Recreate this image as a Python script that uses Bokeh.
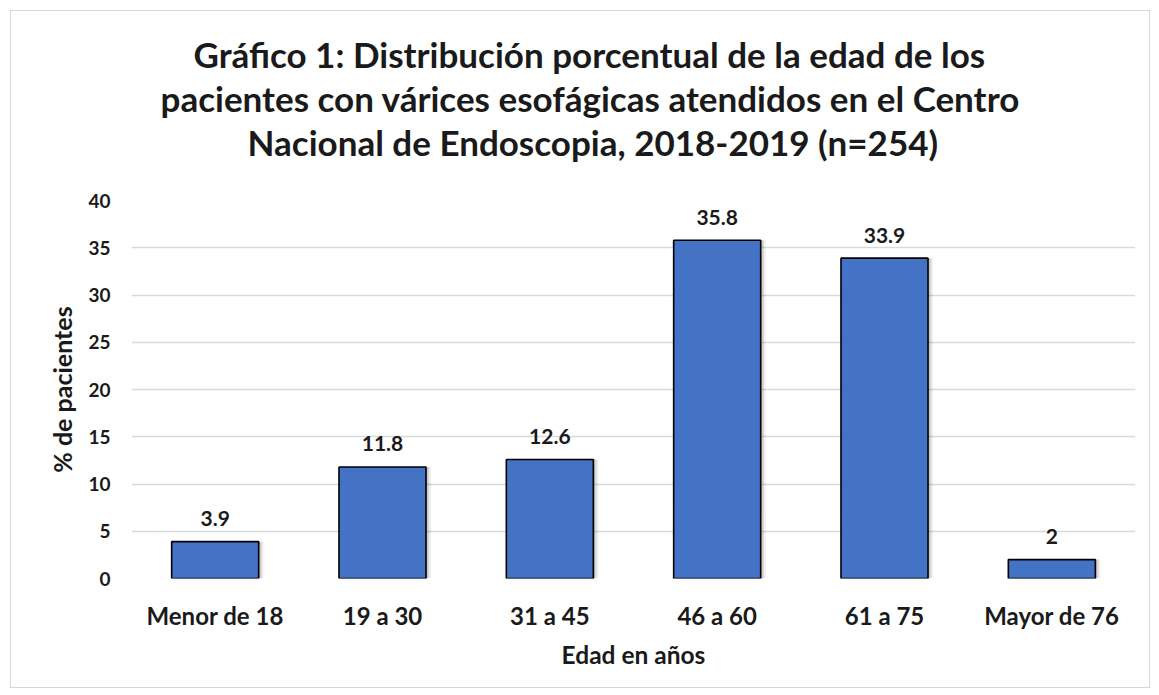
from bokeh.plotting import figure
from bokeh.models import ColumnDataSource, Title, Range1d, FactorRange
from bokeh.transform import dodge
from bokeh.core.properties import value
from bokeh.embed import file_html
from bokeh.resources import INLINE

categories = ["Menor de 18", "19 a 30", "31 a 45", "46 a 60", "61 a 75", "Mayor de 76"]
percentages = [3.9, 11.8, 12.6, 35.8, 33.9, 2.0]
value_labels = ["3.9", "11.8", "12.6", "35.8", "33.9", "2"]
title_lines = [
    "Gráfico 1: Distribución porcentual de la edad de los",
    "pacientes con várices esofágicas atendidos en el Centro",
    "Nacional de Endoscopia, 2018-2019 (n=254)",
]
y_ticks = [0, 5, 10, 15, 20, 25, 30, 35, 40]

FONT = "Lato"
TXT = "#1a1a1a"
TITLE_SIZE = "35px"
src = ColumnDataSource(dict(cat=categories, val=percentages, lab=value_labels))

p = figure(
    x_range=FactorRange(*categories, range_padding=0),
    y_range=Range1d(0, 40),
    width=1140, height=678,
    output_backend="svg", toolbar_location=None,
    min_border_left=120, min_border_right=16, min_border_top=189, min_border_bottom=111,
)
p.margin = (10, 0, 0, 10)
p.styles = {"border": "1px solid #d9d9d9"}
p.outline_line_color = None
p.background_fill_color = "white"
p.border_fill_color = "white"

# spacer between the frame and the title block
p.add_layout(Title(text=" ", text_font_size="10px", standoff=25), "above")

# titles: first added sits nearest the frame; p.title is outermost
def style_title(t, off):
    t.align = "left"
    t.offset = off
    t.text_font = FONT
    t.text_font_style = "bold"
    t.text_font_size = TITLE_SIZE
    t.text_color = TXT
    t.standoff = 0

t3 = Title(text=title_lines[2]); style_title(t3, 116)
t2 = Title(text=title_lines[1]); style_title(t2, 29)
p.add_layout(t3, "above")
p.add_layout(t2, "above")
p.title.text = title_lines[0]
style_title(p.title, 62)

# shadow layers
for i, dx in enumerate([0.010, 0.020, 0.030]):
    p.vbar(x=dodge("cat", dx, range=p.x_range), top="val", bottom=0, width=0.52,
           source=src, fill_color="black", fill_alpha=0.13 - i * 0.035, line_color=None)

p.vbar(x="cat", top="val", bottom=0, width=0.52, source=src,
       fill_color="#4472C4", line_color="black", line_width=1.6)

p.text(x="cat", y="val", text="lab", source=src, y_offset=-23,
       text_align="center", text_baseline="alphabetic",
       text_font=value(FONT), text_font_style="bold", text_font_size="21px",
       text_color=TXT)

p.xgrid.grid_line_color = None
p.ygrid.grid_line_color = "#d9d9d9"
p.ygrid.grid_line_width = 1.5
p.yaxis.ticker = y_ticks

for ax in (p.xaxis, p.yaxis):
    ax.axis_line_color = None
    ax.major_tick_line_color = None
    ax.minor_tick_line_color = None
    ax.major_label_text_font = FONT
    ax.major_label_text_font_style = "bold"
    ax.major_label_text_color = TXT
    ax.axis_label_text_font = FONT
    ax.axis_label_text_font_style = "bold"
    ax.axis_label_text_color = TXT

p.yaxis.major_label_text_font_size = "19px"
p.yaxis.major_label_standoff = 15
p.yaxis.axis_label = "% de pacientes"
p.yaxis.axis_label_text_font_size = "25px"
p.yaxis.axis_label_standoff = 8

p.xaxis.major_label_text_font_size = "24px"
p.xaxis.major_label_standoff = 16
p.xaxis.axis_label = "Edad en años"
p.xaxis.axis_label_text_font_size = "24.5px"
p.xaxis.axis_label_standoff = 7

open("out.html", "w").write(file_html(p, INLINE))
